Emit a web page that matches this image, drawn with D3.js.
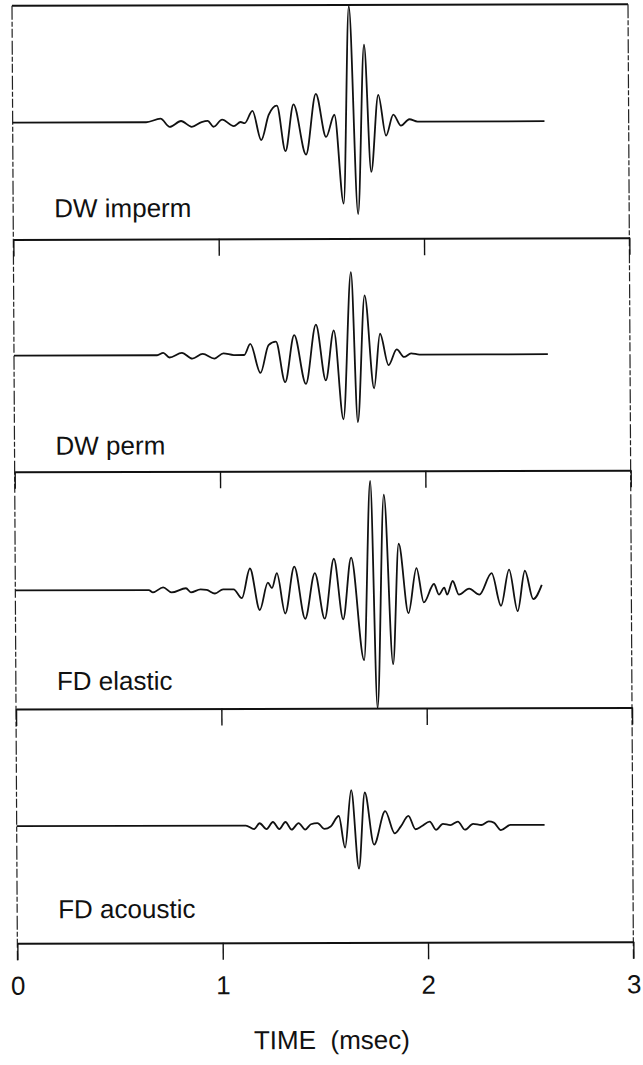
<!DOCTYPE html>
<html>
<head>
<meta charset="utf-8">
<script src="https://cdn.jsdelivr.net/npm/d3@7"></script>
<style>
  body { margin: 0; background: #fff; }
  svg text { font-family: "Liberation Sans", Arial, Helvetica, sans-serif; fill: #111; }
</style>
</head>
<body>
<svg id="chart" width="643" height="1065"></svg>
<script>
// ---- data: waveform traces (time in msec, normalised amplitude) ----
const panelNames = ["DW imperm", "DW perm", "FD elastic", "FD acoustic"];
const timeTicks = [0, 1, 2, 3];
const tickLabels = ["0", "1", "2", "3"];
const axisTitle = "TIME  (msec)";

const dwImpermTime = [0, 0.65, 0.72, 0.765, 0.82, 0.872, 0.92, 0.95, 0.978, 1.02, 1.077, 1.11, 1.13, 1.168, 1.21, 1.247, 1.287, 1.328, 1.368, 1.428, 1.477, 1.526, 1.567, 1.61, 1.64, 1.68, 1.713, 1.745, 1.781, 1.818, 1.854, 1.891, 1.932, 1.972, 2.59];
const dwImpermAmp  = [0, 0, 0.03, -0.04, 0.01, -0.04, 0, 0.01, -0.04, 0.02, -0.035, 0, -0.01, 0.095, -0.155, 0.06, 0.14, -0.25, 0.15, -0.28, 0.24, -0.13, 0.06, -0.70, 0.99, -0.79, 0.66, -0.43, 0.23, -0.12, 0.06, -0.035, 0.02, 0, 0];

const dwPermTime = [0, 0.697, 0.727, 0.757, 0.818, 0.868, 0.919, 0.976, 1.02, 1.071, 1.121, 1.151, 1.20, 1.24, 1.276, 1.32, 1.365, 1.421, 1.471, 1.518, 1.558, 1.603, 1.643, 1.673, 1.709, 1.753, 1.783, 1.824, 1.864, 1.90, 1.934, 1.975, 2.60];
const dwPermAmp  = [0, 0, 0.02, -0.02, 0.02, -0.03, 0.01, -0.03, 0.015, 0, 0, 0.095, -0.155, 0.085, 0.115, -0.235, 0.17, -0.25, 0.26, -0.22, 0.21, -0.555, 0.71, -0.58, 0.51, -0.29, 0.18, -0.09, 0.045, -0.02, 0.01, 0, 0];

const fdElasticTime = [0, 0.65, 0.67, 0.72, 0.761, 0.831, 0.855, 0.902, 0.932, 0.972, 1.012, 1.063, 1.103, 1.143, 1.19, 1.23, 1.25, 1.274, 1.314, 1.359, 1.411, 1.459, 1.506, 1.552, 1.596, 1.636, 1.697, 1.731, 1.761, 1.797, 1.838, 1.868, 1.914, 1.954, 1.989, 2.039, 2.063, 2.089, 2.103, 2.13, 2.16, 2.21, 2.26, 2.32, 2.365, 2.405, 2.446, 2.482, 2.522, 2.564];
const fdElasticAmp  = [0, 0, -0.02, 0.023, -0.02, 0.015, -0.02, 0.005, 0, -0.03, 0.005, 0.005, -0.07, 0.18, -0.17, 0.06, 0.015, 0.14, -0.2, 0.195, -0.245, 0.14, -0.245, 0.26, -0.25, 0.27, -0.595, 0.915, -1.0, 0.80, -0.63, 0.385, -0.2, 0.18, -0.11, 0.045, -0.045, 0.015, -0.045, 0.07, -0.045, 0.005, -0.045, 0.135, -0.14, 0.165, -0.185, 0.155, -0.085, 0.035];

const fdAcousticTime = [0, 1.116, 1.156, 1.183, 1.217, 1.248, 1.279, 1.309, 1.339, 1.373, 1.405, 1.433, 1.465, 1.499, 1.529, 1.569, 1.599, 1.630, 1.666, 1.696, 1.740, 1.795, 1.841, 1.871, 1.908, 1.942, 1.972, 2.012, 2.042, 2.076, 2.112, 2.149, 2.183, 2.223, 2.263, 2.299, 2.324, 2.358, 2.405, 2.571];
const fdAcousticAmp  = [0, 0, -0.03, 0.02, -0.03, 0.03, -0.03, 0.03, -0.035, 0.02, -0.035, 0.01, 0.02, -0.03, -0.01, 0.08, -0.19, 0.30, -0.37, 0.28, -0.165, 0.12, -0.07, -0.01, 0.08, -0.035, -0.01, 0.03, -0.04, 0.01, 0, 0.03, -0.04, 0.01, 0, 0.03, 0.02, -0.045, 0, 0];

const traces = [
  d3.zip(dwImpermTime, dwImpermAmp),
  d3.zip(dwPermTime, dwPermAmp),
  d3.zip(fdElasticTime, fdElasticAmp),
  d3.zip(fdAcousticTime, fdAcousticAmp)
];

// ---- layout ----
const plotLeft = 15, plotRight = 631;
const panelEdges = [5, 238.6, 471, 708.3, 942.5];   // top of each panel, then the time axis
const labelLift = [22, 17, 19, 25];                  // label baseline above each panel's lower edge
const tickLen = 17;
const fontSize = 26;

const svg = d3.select("#chart");
svg.append("rect").attr("width", 643).attr("height", 1065).attr("fill", "#fff");

// the printed page sits very slightly askew
const root = svg.append("g")
  .attr("transform", "matrix(1,-0.0026,0.0057,1,-3.03,0.84)");

const x = d3.scaleLinear().domain([0, 3]).range([plotLeft, plotRight]);

// top rule of the stack
root.append("line")
  .attr("x1", plotLeft).attr("x2", plotRight)
  .attr("y1", panelEdges[0]).attr("y2", panelEdges[0])
  .attr("stroke", "#111").attr("stroke-width", 2);

// side borders (broken, thin)
[plotLeft, plotRight].forEach(px => {
  root.append("line")
    .attr("x1", px).attr("x2", px)
    .attr("y1", panelEdges[0]).attr("y2", panelEdges[4] + tickLen)
    .attr("stroke", "#222").attr("stroke-width", 1.2)
    .attr("stroke-dasharray", "14 2 5 2 9 3");
});

traces.forEach((trace, i) => {
  const top = panelEdges[i], bottom = panelEdges[i + 1];
  const y = d3.scaleLinear().domain([-1, 1]).range([bottom, top]);

  const line = d3.line()
    .x(d => x(d[0]))
    .y(d => y(d[1]))
    .curve(d3.curveMonotoneX);

  root.append("path")
    .datum(trace)
    .attr("d", line)
    .attr("fill", "none")
    .attr("stroke", "#111")
    .attr("stroke-width", 1.8)
    .attr("stroke-linejoin", "round");

  // panel's time axis along its lower edge
  const isLast = i === traces.length - 1;
  const axis = d3.axisBottom(x)
    .tickValues(timeTicks)
    .tickSize(tickLen)
    .tickSizeOuter(0)
    .tickPadding(16)
    .tickFormat((d, j) => isLast ? tickLabels[j] : "");

  const g = root.append("g")
    .attr("transform", `translate(0,${bottom})`)
    .call(axis);
  g.select(".domain").attr("stroke", "#111").attr("stroke-width", 2);
  g.selectAll(".tick line").attr("stroke", "#111").attr("stroke-width", 1.4);
  g.selectAll(".tick text")
    .attr("font-size", fontSize)
    .attr("font-family", "'Liberation Sans', Arial, Helvetica, sans-serif")
    .attr("fill", "#111");

  root.append("text")
    .attr("x", 56)
    .attr("y", bottom - labelLift[i])
    .attr("font-size", fontSize)
    .text(panelNames[i]);
});

root.append("text")
  .attr("x", 329)
  .attr("y", 1049)
  .attr("text-anchor", "middle")
  .attr("font-size", fontSize)
  .style("white-space", "pre")
  .text(axisTitle);
</script>
</body>
</html>
